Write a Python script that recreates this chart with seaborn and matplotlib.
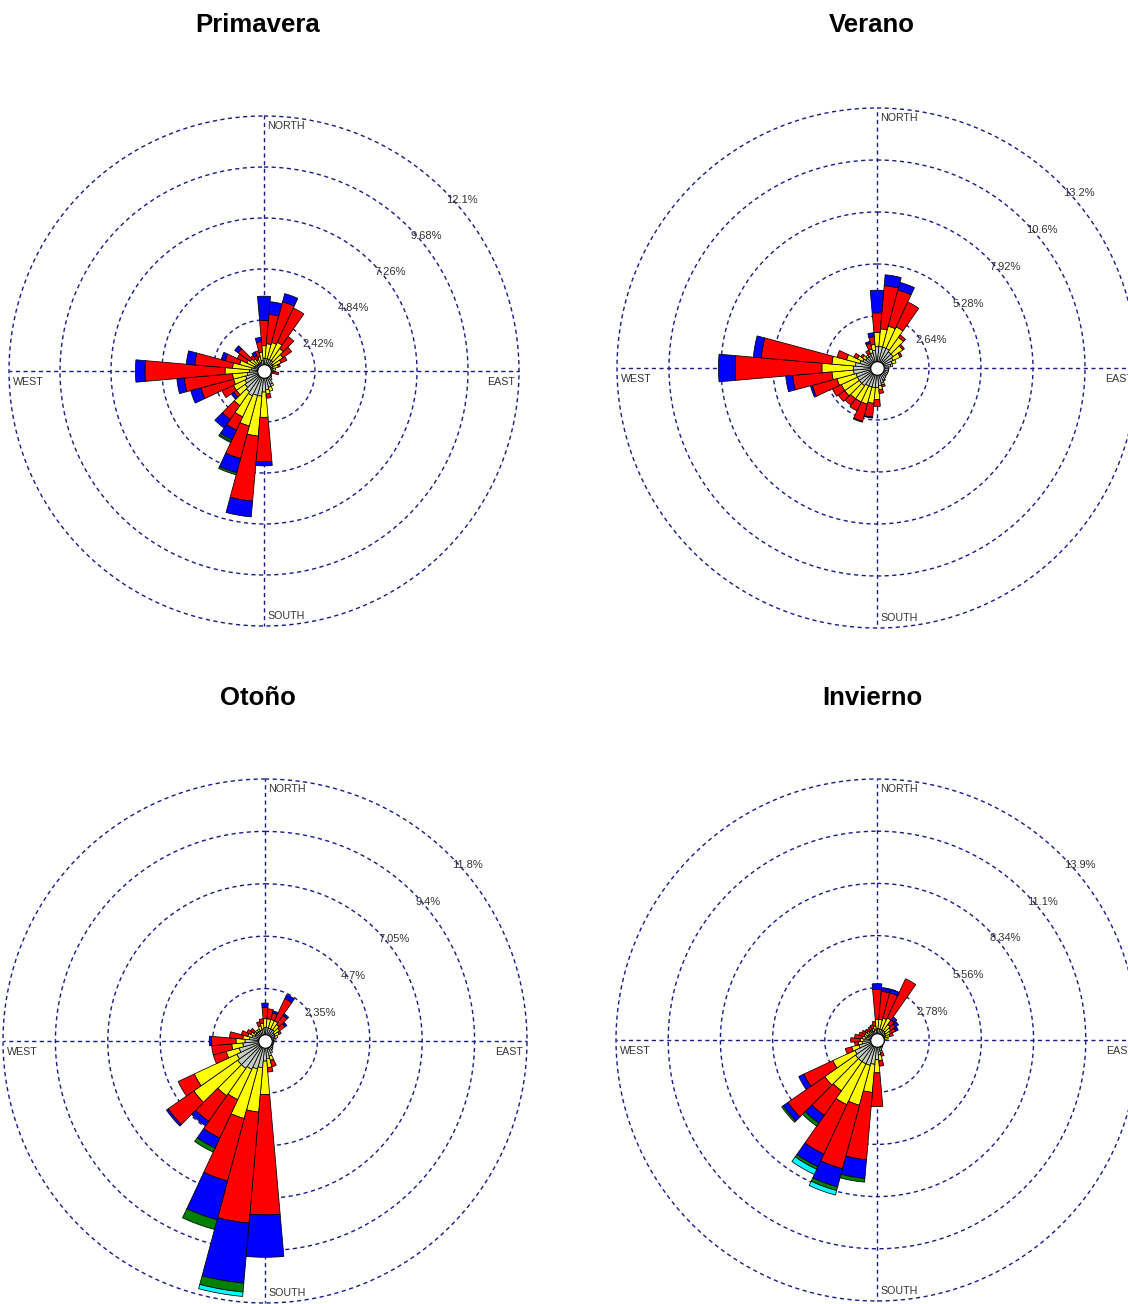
import numpy as np
import pandas as pd
import matplotlib
matplotlib.use("Agg")
import matplotlib.pyplot as plt
import seaborn as sns

# Wind direction sectors (compass bearing of each 10-degree sector centre)
directions = list(range(0, 360, 10))

# Speed classes, innermost first, and their colours
speed_classes = ["c1", "c2", "c3", "c4", "c5", "c6"]
class_colors = ["#c4ccc4", "#ffff00", "#ff0000", "#0000ff", "#008000", "#00ffff"]

season_titles = ["Primavera", "Verano", "Otoño", "Invierno"]

# Ring values (%) and their labels for each season
primavera_rings = [2.42, 4.84, 7.26, 9.68, 12.1]
primavera_ring_labels = ["2.42%", "4.84%", "7.26%", "9.68%", "12.1%"]
verano_rings = [2.64, 5.28, 7.92, 10.56, 13.2]
verano_ring_labels = ["2.64%", "5.28%", "7.92%", "10.6%", "13.2%"]
otono_rings = [2.35, 4.7, 7.05, 9.4, 11.75]
otono_ring_labels = ["2.35%", "4.7%", "7.05%", "9.4%", "11.8%"]
invierno_rings = [2.78, 5.56, 8.34, 11.12, 13.9]
invierno_ring_labels = ["2.78%", "5.56%", "8.34%", "11.1%", "13.9%"]

# Cumulative frequency (%) reached by each speed class, one row per sector (0, 10, ... 350)
primavera_bounds = [
    [0.6, 1.2, 2.4, 3.55],
    [0.6, 1.3, 2.7, 3.3],
    [0.6, 1.4, 3.4, 3.8],
    [0.6, 1.5, 3.3],
    [0.6, 1.3, 2.0],
    [0.5, 1.1, 1.6],
    [0.5, 0.9, 1.2],
    [0.45, 0.7, 0.8],
    [0.4, 0.55],
    [0.35, 0.45],
    [0.35, 0.4, 0.7],
    [0.35],
    [0.4],
    [0.45],
    [0.55],
    [0.7, 0.8],
    [0.8, 1.0],
    [0.9, 1.1, 1.3],
    [1.0, 2.2, 4.3, 4.5],
    [1.2, 3.1, 6.2, 6.95],
    [1.2, 2.7, 4.3, 5.0, 5.1],
    [1.3, 2.4, 3.1, 3.6, 3.7, 3.75],
    [1.2, 2.0, 2.8, 3.3],
    [1.1, 1.6, 1.75, 1.9],
    [1.0, 1.6, 2.2],
    [0.9, 1.5, 3.1, 3.6],
    [0.8, 1.5, 3.8, 4.15],
    [0.7, 1.85, 5.65, 6.1],
    [0.6, 1.5, 3.3, 3.7],
    [0.5, 1.2, 1.9, 2.1],
    [0.45, 0.9, 1.4],
    [0.4, 0.8, 1.5, 1.7],
    [0.4, 0.7, 0.9],
    [0.4, 0.6, 0.8, 1.0],
    [0.45, 0.7, 1.0],
    [0.5, 0.9, 1.4, 1.6],
]

verano_bounds = [
    [1.1, 1.8, 2.8, 3.95],
    [1.1, 2.0, 4.2, 4.75],
    [1.1, 2.2, 4.1, 4.5],
    [1.1, 2.3, 3.7],
    [1.0, 1.9, 2.05],
    [1.0, 1.6, 1.7],
    [0.9, 1.3, 1.4],
    [0.8, 1.0],
    [0.7, 0.8],
    [0.6],
    [0.6],
    [0.6],
    [0.6],
    [0.6],
    [0.65],
    [0.7, 0.75],
    [0.8, 0.9, 1.0],
    [0.9, 1.1, 1.3],
    [1.0, 1.6, 1.95],
    [1.0, 1.8, 2.5, 2.55],
    [1.0, 1.9, 2.8, 2.85],
    [1.0, 1.9, 2.4],
    [1.1, 1.9, 2.3],
    [1.1, 2.0, 2.4],
    [1.1, 2.0, 2.5],
    [1.1, 2.1, 3.4, 3.5],
    [1.2, 2.3, 4.3, 4.65],
    [1.2, 2.8, 7.2, 8.05],
    [1.1, 2.3, 5.9, 6.3],
    [0.9, 1.6, 2.1],
    [0.8, 1.1, 1.3],
    [0.7, 0.9, 1.0],
    [0.7, 0.8],
    [0.7, 0.8, 1.0],
    [0.8, 1.0, 1.3, 1.4],
    [0.9, 1.2, 1.6, 1.8],
]

otono_bounds = [
    [0.6, 1.0, 1.5, 1.7],
    [0.6, 1.0, 1.45],
    [0.6, 1.0, 1.3, 1.4],
    [0.6, 1.0, 2.1, 2.3],
    [0.6, 0.9, 1.4, 1.5],
    [0.5, 0.8, 1.1, 1.2],
    [0.5, 0.7, 0.8],
    [0.45, 0.6],
    [0.4, 0.5],
    [0.4],
    [0.4],
    [0.4],
    [0.4],
    [0.45],
    [0.5],
    [0.6],
    [0.7, 0.9, 1.2],
    [0.8, 1.2, 1.4],
    [0.9, 2.4, 7.8, 9.7],
    [1.2, 3.2, 8.2, 10.9, 11.3, 11.5],
    [1.3, 3.6, 6.5, 8.3, 8.75],
    [1.4, 2.9, 4.8, 5.3, 5.5],
    [1.5, 3.0, 4.4, 4.65],
    [1.5, 3.9, 5.3, 5.4],
    [1.4, 3.5, 4.3],
    [1.2, 1.8, 2.4],
    [1.0, 1.5, 2.4],
    [0.9, 1.3, 2.4, 2.5],
    [0.7, 1.0, 1.6],
    [0.6, 0.8, 1.1],
    [0.5, 0.7, 0.9],
    [0.5, 0.6, 0.8],
    [0.5, 0.6],
    [0.5, 0.6],
    [0.5, 0.7, 0.9],
    [0.55, 0.8, 1.0],
]

invierno_bounds = [
    [0.6, 1.1, 2.7, 3.0],
    [0.6, 1.1, 2.6, 2.8],
    [0.6, 1.2, 2.6, 2.8],
    [0.6, 1.3, 3.6],
    [0.6, 1.0, 1.3, 1.5],
    [0.55, 0.9, 1.2, 1.4],
    [0.5, 0.8, 1.1, 1.25],
    [0.45, 0.7, 0.9],
    [0.4, 0.6],
    [0.4],
    [0.4],
    [0.4],
    [0.4],
    [0.4],
    [0.45],
    [0.5],
    [0.6, 0.7, 0.9],
    [0.8, 1.1, 1.4],
    [1.05, 1.75, 3.55],
    [1.3, 2.8, 6.4, 7.4, 7.6],
    [1.4, 3.6, 7.1, 8.1, 8.3, 8.55],
    [1.4, 3.8, 6.7, 7.45, 7.6, 7.9],
    [1.4, 3.3, 4.9, 5.4, 5.6],
    [1.4, 3.4, 5.8, 6.1, 6.2],
    [1.3, 2.6, 4.3, 4.6],
    [1.0, 1.4, 1.75],
    [0.8, 1.0, 1.2],
    [0.7, 0.9, 1.4],
    [0.6, 0.8, 1.2],
    [0.55, 0.7, 1.0],
    [0.5, 0.7, 0.9],
    [0.5, 0.65, 0.8],
    [0.5, 0.6, 0.75],
    [0.5, 0.6, 0.8],
    [0.5, 0.65, 0.85],
    [0.55, 0.75, 1.0],
]

sns.set_style("white")
plt.rcParams["font.family"] = ["Liberation Sans", "DejaVu Sans"]

W, H = 1128, 1304
fig = plt.figure(figsize=(W / 100, H / 100), dpi=100)
fig.patch.set_facecolor("white")

GRID = "#1a1a8a"
TXT = "#333333"


def to_long(bounds):
    rows = []
    for d, row in zip(directions, bounds):
        lower = 0.0
        for cls, upper in zip(speed_classes, row):
            rows.append({"direction": d, "speed": cls, "bottom": lower, "top": upper})
            lower = upper
    return pd.DataFrame(rows)


def draw_rose(cx, cy, rpx, rings, ring_labels, bounds, title, tx, ty):
    ax = fig.add_axes([(cx - rpx) / W, 1 - (cy + rpx) / H, 2 * rpx / W, 2 * rpx / H],
                      projection="polar")
    rmax = rings[-1]
    ax.set_theta_zero_location("N")
    ax.set_theta_direction(-1)
    ax.set_ylim(0, rmax)
    ax.grid(False)
    ax.set_xticks([])
    ax.set_yticks([])
    ax.spines["polar"].set_visible(False)
    ax.patch.set_alpha(0)

    # dashed rings and axis cross
    th = np.linspace(0, 2 * np.pi, 721)
    for r in rings:
        ax.plot(th, np.full_like(th, r), color=GRID, lw=1.0, ls=(0, (3, 2.5)),
                zorder=1, clip_on=False)
    for a in (0, np.pi / 2, np.pi, 3 * np.pi / 2):
        ax.plot([a, a], [0, rmax], color=GRID, lw=1.0, ls=(0, (3, 2.5)), zorder=1,
                clip_on=False)

    df = to_long(bounds)
    palette = dict(zip(speed_classes, sns.color_palette(class_colors)))
    for cls in speed_classes:
        sub = df[df["speed"] == cls]
        if sub.empty:
            continue
        ax.bar(np.deg2rad(sub["direction"].to_numpy()),
               (sub["top"] - sub["bottom"]).to_numpy(),
               width=np.deg2rad(10), bottom=sub["bottom"].to_numpy(),
               color=palette[cls], edgecolor="black", linewidth=0.55, zorder=3)

    # calm circle at the centre
    ax.scatter([0], [0], s=95, facecolor="white", edgecolor="black", linewidth=0.8,
               zorder=5, clip_on=False)

    # ring value labels along the NE diagonal
    for r, lbl in zip(rings, ring_labels):
        ax.annotate(lbl, xy=(np.deg2rad(45), r), xytext=(1.5, -3),
                    textcoords="offset points", ha="left", va="top", fontsize=8,
                    color=TXT, annotation_clip=False, zorder=6)

    kw = dict(textcoords="offset points", fontsize=7.7, color=TXT, annotation_clip=False)
    ax.annotate("NORTH", xy=(0, rmax), xytext=(2.5, -3.5), ha="left", va="top", **kw)
    ax.annotate("SOUTH", xy=(np.pi, rmax), xytext=(2.5, 5), ha="left", va="baseline", **kw)
    ax.annotate("WEST", xy=(3 * np.pi / 2, rmax), xytext=(3, -4), ha="left", va="top", **kw)
    ax.annotate("EAST", xy=(np.pi / 2, rmax), xytext=(-3, -4), ha="right", va="top", **kw)

    fig.text(tx / W, 1 - ty / H, title, ha="center", va="center", fontsize=18.5,
             fontweight="bold", color="black")


draw_rose(264, 371, 255, primavera_rings, primavera_ring_labels, primavera_bounds,
          season_titles[0], 258, 25)
draw_rose(877, 368, 260, verano_rings, verano_ring_labels, verano_bounds,
          season_titles[1], 872, 25)
draw_rose(265, 1041, 262, otono_rings, otono_ring_labels, otono_bounds,
          season_titles[2], 258, 698)
draw_rose(877, 1040, 261, invierno_rings, invierno_ring_labels, invierno_bounds,
          season_titles[3], 872, 698)

fig.savefig("out.png", dpi=100, facecolor="white")
